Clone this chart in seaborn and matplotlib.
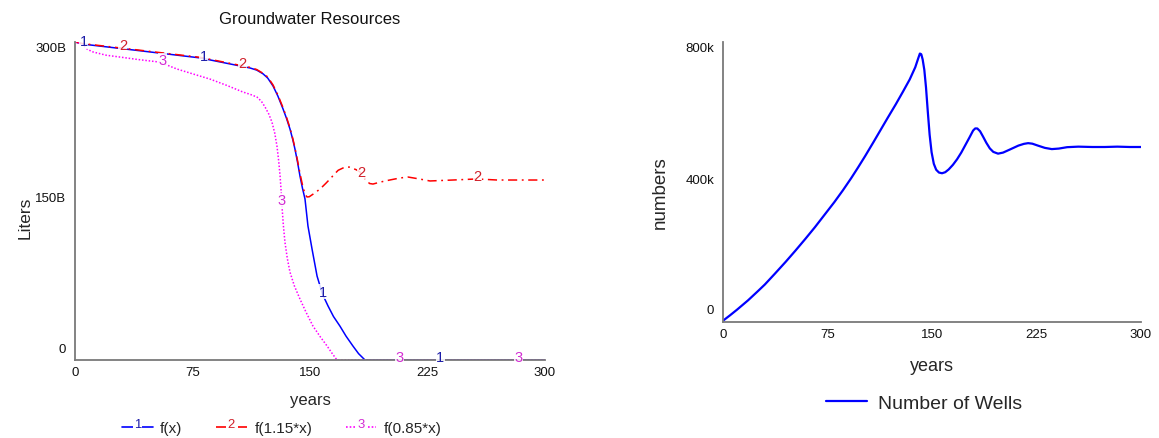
import numpy as np
import matplotlib
matplotlib.use("Agg")
import matplotlib.pyplot as plt
import matplotlib.transforms as mtransforms
from matplotlib.legend_handler import HandlerLine2D
from matplotlib.lines import Line2D
from matplotlib.text import Text
import seaborn as sns

# ---- left panel: groundwater resources (billions of liters) ----
years_fx = [0, 5.1, 40, 79.8, 111.7, 116, 120, 123, 126.4, 129.5, 132.8, 135, 137.2,
            139, 140.4, 142, 143.6, 145.2, 146.8, 148.7, 151.3, 154.5, 158, 161.5,
            165, 169.1, 173, 177.4, 181, 185.1, 300]
water_fx = [300, 298, 292, 285, 275.5, 273.5, 270, 266, 258.5, 249, 236.8, 228, 218,
            208, 199, 187, 173.6, 162, 152, 126.4, 104.7, 79.2, 62, 51,
            41, 32, 22.5, 13.2, 6, 0, 0]

years_f115 = [0, 5, 40, 80, 112, 116, 120, 123, 126.4, 129.5, 132.8, 135, 137.2, 139,
              140.4, 142, 143.6, 145.5, 147, 148.1, 149.5, 152, 156.4, 160, 162.8,
              166, 168, 172.3, 175, 177, 179.5, 181.9, 184, 186.4, 188, 190.2, 194,
              197.9, 204.3, 208, 212.6, 219, 226.6, 241.3, 256.6, 269.4, 300]
water_f115 = [300, 298.5, 292.5, 285.5, 276, 274, 270.5, 267, 259.5, 250, 238, 229,
              219, 209, 200, 188.5, 176, 163, 156, 153.8, 154, 156.5, 161.3, 166.5,
              170.8, 176, 179, 182, 182, 181, 179.5, 177.4, 173, 168.9, 166.5, 166,
              167.5, 168.9, 170.8, 171.8, 172.6, 171, 168.9, 169.8, 170.8, 169.8, 169.8]

years_f085 = [0, 2.5, 5.1, 8, 11.5, 20, 28.7, 40, 54.3, 60, 65.1, 75, 86.2, 97, 107.2,
              112, 116.2, 119, 121.3, 123.7, 125.7, 127.5, 128.9, 130, 130.9, 131.6,
              132.1, 133, 134, 135.5, 137.2, 140, 143.6, 147.5, 151.9, 156.5, 160.9,
              164, 167.2, 300]
water_f085 = [300, 299, 297, 293, 290.6, 287.5, 285.8, 283.5, 281, 277.5, 274.5, 270,
              265, 259, 252.8, 250.5, 248, 244, 238.7, 232, 224.5, 214, 201.9, 188,
              173.6, 159, 145.3, 127, 111.3, 96, 83, 70, 57.5, 45, 32, 22, 13.2,
              6.5, 0, 0]

series_names = ["f(x)", "f(1.15*x)", "f(0.85*x)"]
series_nums = ["1", "2", "3"]
num_years = [[5.7, 82, 158, 233], [30.6, 106.6, 183, 257], [56, 132, 207, 283]]

# ---- right panel: number of wells (thousands) ----
years_wells = [0, 5, 10, 18, 25, 30, 37, 45, 52, 59, 66, 73, 80, 86, 92, 97, 102, 108,
               113, 118, 124, 129, 134, 138, 140, 141.3, 142.3, 143.3, 144.5, 145.7,
               147, 148.3, 149.7, 151.3, 153, 155, 157.2, 159.5, 162, 165, 168, 171,
               174, 177, 179.5, 181, 182.5, 184.5, 186.6, 189, 191.5, 194, 197.4, 201,
               206, 212, 216, 219, 222, 226, 231, 236, 241, 247, 255, 265, 274, 283,
               292, 300]
wells_k = [3.7, 19, 35, 62, 88, 107, 137, 172, 204, 237, 271, 307, 343, 376, 411, 442,
           474, 514, 548, 582, 622, 657, 693, 728, 752, 767, 765, 750, 720, 670,
           600, 535, 485, 452, 435, 427, 425, 428, 436, 449, 465, 484,
           506, 528, 547, 553, 553, 545, 530, 512, 496, 486, 481, 484,
           493, 504, 509, 511, 509.5, 504, 497.5, 494, 495.5, 499.5, 501, 500, 500, 501,
           500, 500]

sns.set_theme(style="white")
plt.rcParams["font.family"] = ["Liberation Sans", "DejaVu Sans"]

colors = ["#0000ff", "#ff0000", "#ff00ff"]
num_colors = ["#1c1ca8", "#d0202a", "#d22cd2"]
styles = ["-", (0, (6, 3, 1.2, 3)), (0, (1, 1.2))]

fig = plt.figure(figsize=(11.59, 4.39), dpi=100)
W, H = 1159, 439
ax1 = fig.add_axes([75 / W, 78 / H, 470 / W, 318 / H])
ax2 = fig.add_axes([723 / W, 116 / H, 418 / W, 280 / H])

all_years = [years_fx, years_f115, years_f085]
all_water = [water_fx, water_f115, water_f085]
for yrs, vals, c, ls in zip(all_years, all_water, colors, styles):
    sns.lineplot(x=yrs, y=vals, ax=ax1, color=c, linestyle=ls, linewidth=1.1,
                 sort=False)

# series numbers along the lines (Vensim style)
for yrs, vals, num, nc, ny in zip(all_years, all_water, series_nums, num_colors, num_years):
    for xv in ny:
        ax1.annotate(num, (xv, np.interp(xv, yrs, vals)), xytext=(0, 2),
                     textcoords="offset points", ha="center", va="center",
                     fontsize=10.5, color=nc, zorder=6,
                     bbox=dict(facecolor="white", edgecolor="none", pad=0.3, alpha=0.85))

sns.lineplot(x=years_wells, y=wells_k, ax=ax2, color="#0000ff", linewidth=1.6, sort=False)

ax1.set_xlim(0, 300)
ax1.set_ylim(0, 300)
ax2.set_xlim(0, 300)
ax2.set_ylim(0, 800)
ax1.set_xticks([0, 75, 150, 225, 300])
ax2.set_xticks([0, 75, 150, 225, 300])
ax1.set_yticks([0, 150, 300])
ax1.set_yticklabels(["0", "150B", "300B"])
ax2.set_yticks([0, 400, 800])
ax2.set_yticklabels(["0", "400k", "800k"])

for ax, offs in [(ax1, [12, 5, -4]), (ax2, [13, 4, -5])]:
    for sp in ["top", "right"]:
        ax.spines[sp].set_visible(False)
    for sp in ["left", "bottom"]:
        ax.spines[sp].set_color("#7a7a7a")
        ax.spines[sp].set_linewidth(1.3)
    ax.tick_params(axis="both", length=0, labelsize=9.5, colors="#111111")
    ax.tick_params(axis="y", pad=6.5)
    ax.tick_params(axis="x", pad=4.5)
    for lab, dy in zip(ax.get_yticklabels(), offs):
        lab.set_transform(lab.get_transform() +
                          mtransforms.ScaledTranslation(0, dy / 100, fig.dpi_scale_trans))

ax1.set_title("Groundwater Resources", fontsize=12, color="#111111", pad=14)
ax1.set_ylabel("Liters", fontsize=12.5, va="center")
ax1.yaxis.set_label_coords(-0.106, 0.45)
ax1.set_xlabel("years", fontsize=12, va="center")
ax1.xaxis.set_label_coords(0.5, -0.123)

ax2.set_ylabel("numbers", fontsize=13.5, va="center")
ax2.yaxis.set_label_coords(-0.151, 0.464)
ax2.set_xlabel("years", fontsize=13, va="center")
ax2.xaxis.set_label_coords(0.5, -0.157)


class NumberedHandler(HandlerLine2D):
    def __init__(self, num, ncolor, **kw):
        super().__init__(**kw)
        self.num = num
        self.ncolor = ncolor

    def create_artists(self, legend, orig_handle, xdescent, ydescent, width,
                       height, fontsize, trans):
        arts = super().create_artists(legend, orig_handle, xdescent, ydescent,
                                      width, height, fontsize, trans)
        t = Text(width / 2 - xdescent, height * 0.75 - ydescent, self.num,
                 color=self.ncolor, ha="center", va="center",
                 fontsize=fontsize * 0.85, transform=trans,
                 bbox=dict(facecolor="white", edgecolor="none", pad=0.8))
        return list(arts) + [t]


handles = [Line2D([], [], color=c, linestyle=ls, linewidth=1.2) for c, ls in zip(colors, styles)]
fig.legend(handles, series_names, loc="center", bbox_to_anchor=(282 / W, 1 - 429 / H),
           ncol=3, frameon=False, fontsize=11, handlelength=2.0, handletextpad=0.5,
           columnspacing=2.2, borderpad=0.1,
           handler_map={h: NumberedHandler(n, nc) for h, n, nc in zip(handles, series_nums, num_colors)})

ax2.legend(handles=[Line2D([], [], color="#0000ff", linewidth=1.6)], labels=["Number of Wells"],
           loc="center", bbox_to_anchor=(924 / W, 1 - 404 / H), bbox_transform=fig.transFigure,
           frameon=False, fontsize=14, handlelength=2.1, handletextpad=0.6)

fig.savefig("out.png", dpi=100)
